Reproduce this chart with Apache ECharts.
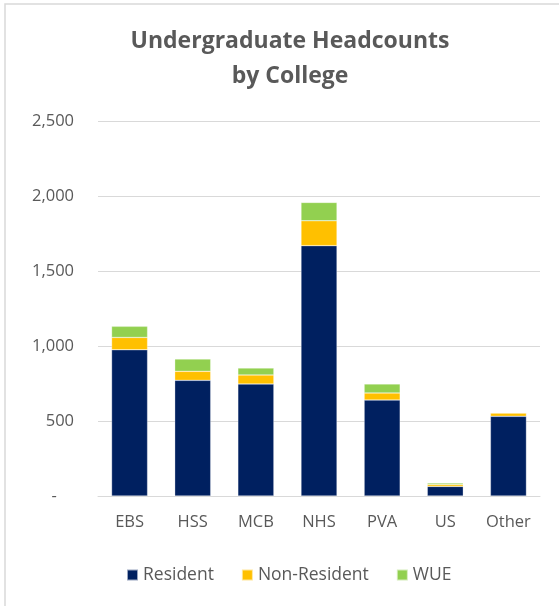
<!DOCTYPE html>
<html>
<head>
<meta charset="utf-8">
<script src="https://cdn.jsdelivr.net/npm/echarts@6/dist/echarts.min.js"></script>
<style>
  html, body { margin: 0; padding: 0; background: #fff; }
  #chart { width: 559px; height: 606px; }
</style>
</head>
<body>
<div id="chart"></div>
<script>
const categories = ['EBS', 'HSS', 'MCB', 'NHS', 'PVA', 'US', 'Other']
const resident = [975, 771, 747, 1669, 640, 64, 531]
const nonResident = [82, 60, 60, 166, 47, 13, 22]
const wue = [74, 82, 46, 122, 60, 10, 3]
const seriesNames = ['Resident', 'Non-Resident', 'WUE']
const colors = ['#002060', '#FFC000', '#92D050']

const chart = echarts.init(document.getElementById('chart'))
const font = 'Open Sans'
const textColor = '#595959'

function barSeries(name, data, color) {
  return {
    name,
    type: 'bar',
    stack: 'total',
    data,
    barWidth: 36,
    itemStyle: { color, borderColor: 'rgba(255,255,255,0.6)', borderWidth: 0.5 },
  }
}

const option = {
  animation: false,
  title: {
    text: 'Undergraduate Headcounts\nby College',
    left: 285,
    textAlign: 'center',
    top: 19,
    textStyle: {
      fontFamily: font,
      fontWeight: 'bold',
      fontSize: 23,
      lineHeight: 35,
      color: textColor,
    },
  },
  legend: {
    data: seriesNames,
    left: 121,
    top: 561,
    itemWidth: 11,
    itemHeight: 11,
    itemGap: 27,
    icon: 'rect',
    textStyle: { fontFamily: font, fontSize: 17.5, color: textColor },
  },
  grid: {
    left: 98,
    right: 19,
    top: 121,
    bottom: 110,
  },
  xAxis: {
    type: 'category',
    data: categories,
    axisTick: { show: false },
    axisLine: { lineStyle: { color: '#d9d9d9', width: 1 } },
    axisLabel: {
      fontFamily: font,
      fontSize: 16.5,
      color: textColor,
      margin: 18,
    },
  },
  yAxis: {
    type: 'value',
    min: 0,
    max: 2500,
    interval: 500,
    axisLine: { show: false },
    axisTick: { show: false },
    splitLine: { lineStyle: { color: '#d9d9d9', width: 1 } },
    axisLabel: {
      fontFamily: font,
      fontSize: 16.5,
      color: textColor,
      margin: 24,
      formatter: (v) => (v === 0 ? '-    ' : v.toLocaleString('en-US')),
    },
  },
  graphic: [
    {
      type: 'rect',
      shape: { x: 5, y: 4, width: 700, height: 700 },
      style: { fill: 'none', stroke: '#d9d9d9', lineWidth: 1.5 },
      silent: true,
    },
  ],
  series: [
    barSeries(seriesNames[0], resident, colors[0]),
    barSeries(seriesNames[1], nonResident, colors[1]),
    barSeries(seriesNames[2], wue, colors[2]),
  ],
}

chart.setOption(option)
</script>
</body>
</html>
